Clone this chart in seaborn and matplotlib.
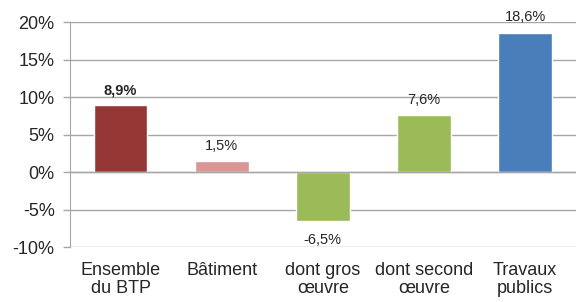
import matplotlib
matplotlib.use("Agg")
import matplotlib.pyplot as plt
import seaborn as sns
import pandas as pd

# Data
categories = ["Ensemble\ndu BTP", "Bâtiment", "dont gros\nœuvre", "dont second\nœuvre", "Travaux\npublics"]
values = [8.9, 1.5, -6.5, 7.6, 18.6]
labels = ["8,9%", "1,5%", "-6,5%", "7,6%", "18,6%"]
colors = ["#953735", "#D99694", "#9BBB59", "#9BBB59", "#4A7EBB"]
yticks = [-10, -5, 0, 5, 10, 15, 20]

sns.set_style("white")
plt.rcParams["font.family"] = ["Liberation Sans", "DejaVu Sans"]

df = pd.DataFrame({"cat": categories, "val": values})

fig = plt.figure(figsize=(5.76, 3.02), dpi=100)
ax = fig.add_axes([0.1215, 0.182, 0.878, 0.745])
sns.barplot(data=df, x="cat", y="val", hue="cat", palette=colors, width=0.53,
            saturation=1, legend=False, ax=ax, zorder=3)

ax.set_ylim(-10, 20)
ax.set_yticks(yticks)
ax.set_yticklabels([f"{t}%" for t in yticks], fontsize=13)
ax.yaxis.grid(True, color="#A6A6A6", linewidth=1)
ax.set_axisbelow(True)
ax.set_xlabel("")
ax.set_ylabel("")
ax.set_xticks(range(len(categories)))
ax.set_xticklabels(categories, fontsize=13, linespacing=1.05)
ax.tick_params(axis="x", length=0, pad=11)
ax.tick_params(axis="y", length=5, width=1, color="#A6A6A6", left=True, pad=6)

for s in ["top", "right", "bottom"]:
    ax.spines[s].set_visible(False)
ax.spines["left"].set_color("#A6A6A6")
ax.axhline(0, color="#A6A6A6", linewidth=1, zorder=4)

# value labels above positive bars, below negative ones
for i, (v, lab) in enumerate(zip(values, labels)):
    off = 11 if v >= 0 else -14
    ax.annotate(lab, (i, v), xytext=(0, off), textcoords="offset points",
                ha="center", va="center", fontsize=10.5,
                fontweight="bold" if i == 0 else "normal")

fig.savefig("out.png", dpi=100)
